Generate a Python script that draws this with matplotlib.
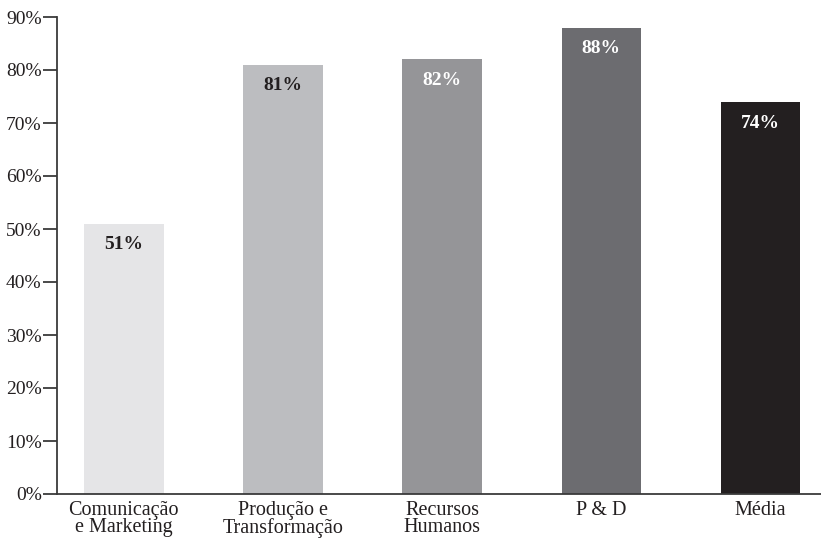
import matplotlib.pyplot as plt
import numpy as np

plt.rcParams['font.family'] = ['Liberation Serif', 'DejaVu Serif']

categories = ['Comunicação\ne Marketing', 'Produção e\nTransformação', 'Recursos\nHumanos', 'P & D', 'Média']
values = [51, 81, 82, 88, 74]
bar_colors = ['#e5e5e7', '#bcbdc0', '#959598', '#6c6c70', '#231f20']
label_colors = ['#231f20', '#231f20', 'white', 'white', 'white']
yticks = [0, 10, 20, 30, 40, 50, 60, 70, 80, 90]

fig = plt.figure(figsize=(8.21, 5.38), dpi=100)
ax = fig.add_axes([57 / 821, 44 / 538, 1 - 57 / 821, (494 - 17) / 538])

x = np.arange(len(values))
ax.bar(x, values, width=0.5, color=bar_colors)

for xi, v, c in zip(x, values, label_colors):
    ax.text(xi, v - 2.4, f'{v}%', ha='center', va='top', color=c,
            fontsize=14, fontweight='bold')

ax.set_xlim(-0.42, 4.38)
ax.set_ylim(0, 90)
ax.set_yticks(yticks)
ax.set_yticklabels([f'{t}%' for t in yticks], fontsize=14, color='#231f20')
ax.set_xticks(x)
ax.set_xticklabels(categories, fontsize=14.5, color='#231f20', linespacing=0.88)
ax.tick_params(axis='x', length=0, pad=5)
ax.tick_params(axis='y', length=10, width=1.3, color='#3a3a3a', pad=1)

for s in ['top', 'right']:
    ax.spines[s].set_visible(False)
for s in ['left', 'bottom']:
    ax.spines[s].set_linewidth(1.3)
    ax.spines[s].set_color('#3a3a3a')

fig.savefig('out.png', dpi=100)
